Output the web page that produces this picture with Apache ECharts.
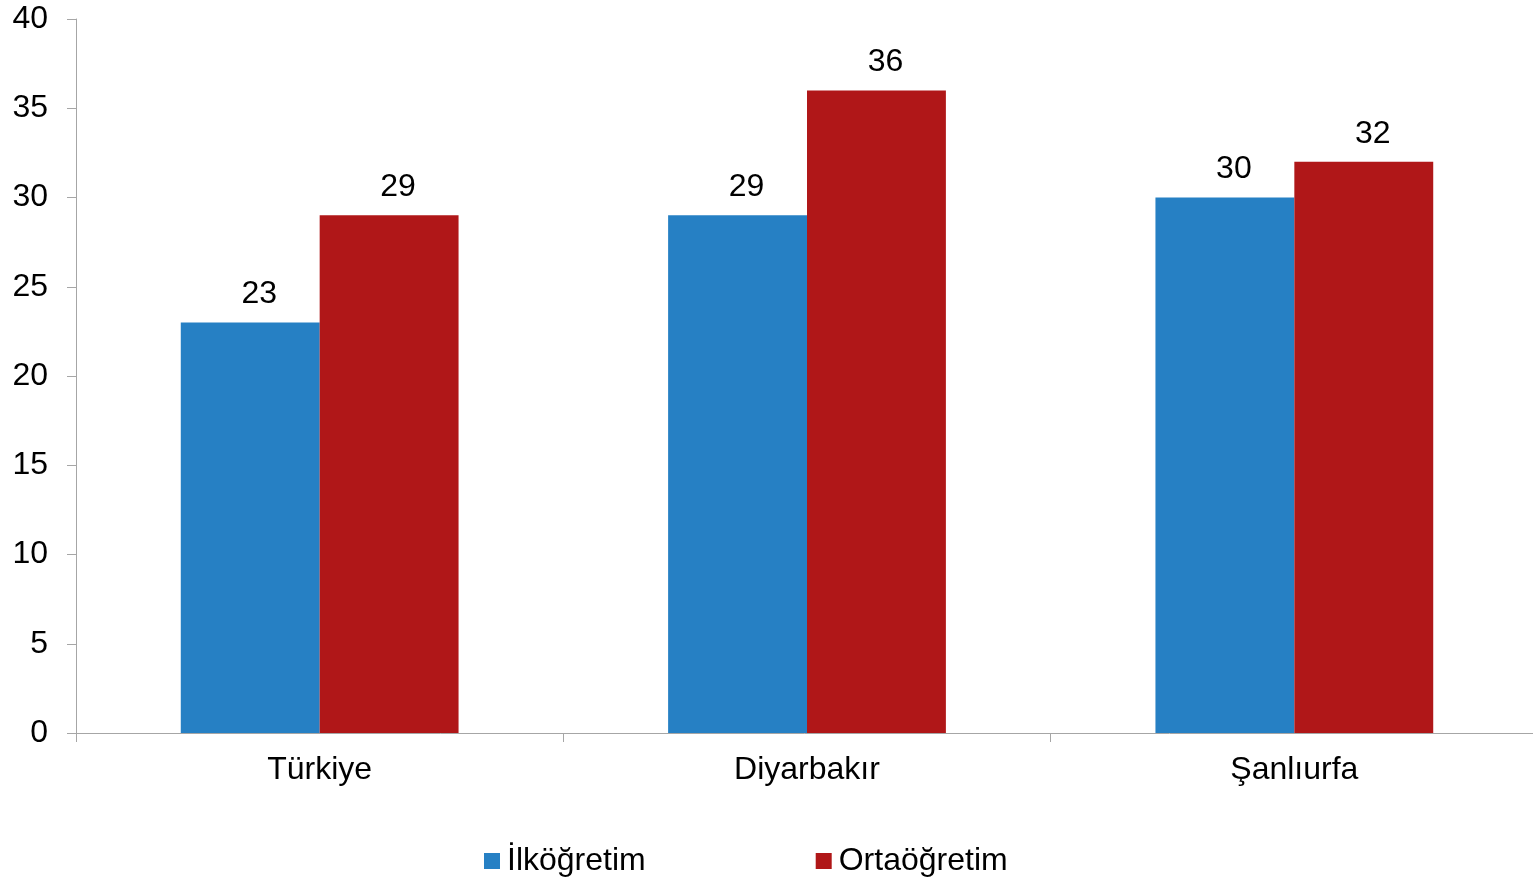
<!DOCTYPE html>
<html><head><meta charset="utf-8">
<script src="https://cdn.jsdelivr.net/npm/echarts@6/dist/echarts.min.js"></script>
<style>html,body{margin:0;padding:0;background:#fff}#c{width:1533px;height:883px}</style>
</head><body><div id="c"></div>
<script>
const categories = ['Türkiye', 'Diyarbakır', 'Şanlıurfa'];
const seriesNames = ['İlköğretim', 'Ortaöğretim'];
const ilkogretim = [23, 29, 30];
const ortaogretim = [29, 36, 32];
const yTicks = [0, 5, 10, 15, 20, 25, 30, 35, 40];

const font = 'Liberation Sans, Arial, sans-serif';
const chart = echarts.init(document.getElementById('c'));
const valueLabel = {show: true, position: 'top', distance: 12, offset: [9, 0], fontFamily: font, fontSize: 32, color: '#000'};
chart.setOption({
  animation: false,
  grid: {left: 76, width: 1462, top: 19, bottom: 150, containLabel: false, outerBoundsMode: 'none'},
  legend: {
    left: 479, top: 840, itemWidth: 16, itemHeight: 16, itemGap: 170,
    icon: 'rect',
    textStyle: {fontFamily: font, fontSize: 32, color: '#000', padding: [0,0,0,2]},
    data: seriesNames
  },
  xAxis: {
    type: 'category', data: categories,
    axisLine: {lineStyle: {color: '#A6A6A6', width: 1}},
    axisTick: {show: true, length: 9, lineStyle: {color: '#A6A6A6'}},
    axisLabel: {fontFamily: font, fontSize: 32, color: '#000', margin: 21}
  },
  yAxis: {
    type: 'value', min: yTicks[0], max: yTicks[yTicks.length-1], interval: 5,
    axisLine: {show: true, lineStyle: {color: '#A6A6A6', width: 1}},
    axisTick: {show: true, length: 9, lineStyle: {color: '#A6A6A6'}},
    splitLine: {show: false},
    axisLabel: {fontFamily: font, fontSize: 32, color: '#000', margin: 28}
  },
  series: [
    {name: seriesNames[0], type: 'bar', data: ilkogretim, barGap: '0%', barCategoryGap: '43%',
     itemStyle: {color: '#2680C4'}, label: valueLabel},
    {name: seriesNames[1], type: 'bar', data: ortaogretim, barGap: '0%', barCategoryGap: '43%',
     itemStyle: {color: '#B01718'}, label: valueLabel}
  ]
});
</script></body></html>
